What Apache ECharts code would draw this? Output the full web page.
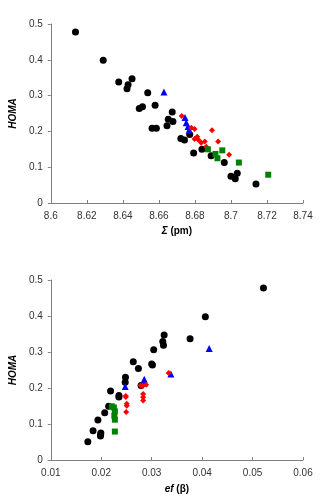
<!DOCTYPE html>
<html>
<head>
<meta charset="utf-8">
<script src="https://cdn.jsdelivr.net/npm/echarts@6/dist/echarts.min.js"></script>
<style>
	html, body { margin: 0; padding: 0; background: #fff; }
	#chart { width: 320px; height: 504px; }
</style>
</head>
<body>
<div id="chart"></div>
<script>
// upper plot: Sigma (pm) vs HOMA
var sigmaCircles = [ [8.6137, 0.478], [8.6291, 0.399], [8.6377, 0.338], [8.6429, 0.330], [8.6423, 0.319],
		[8.6451, 0.347], [8.6538, 0.308], [8.6491, 0.264], [8.6509, 0.269], [8.6579, 0.273], [8.6674, 0.254],
		[8.6652, 0.234], [8.6678, 0.228], [8.6645, 0.216], [8.6562, 0.209], [8.6586, 0.209], [8.6722, 0.180],
		[8.6742, 0.176], [8.6771, 0.191], [8.6793, 0.140], [8.6839, 0.150], [8.6890, 0.132], [8.6963, 0.113],
		[8.7000, 0.075], [8.7024, 0.068], [8.7035, 0.083], [8.7139, 0.053] ];
var sigmaTriangles = [ [8.6628, 0.310], [8.6745, 0.239], [8.6752, 0.224], [8.6762, 0.214], [8.6768, 0.204] ];
var sigmaDiamonds = [ [8.6727, 0.243], [8.6895, 0.203], [8.6780, 0.210], [8.6798, 0.207], [8.6813, 0.185],
		[8.6798, 0.179], [8.6820, 0.176], [8.6835, 0.168], [8.6855, 0.172], [8.6929, 0.172], [8.6863, 0.157],
		[8.6990, 0.135] ];
var sigmaSquares = [ [8.6872, 0.150], [8.6914, 0.137], [8.6925, 0.125], [8.6952, 0.147], [8.7044, 0.113],
		[8.7207, 0.079] ];

// lower plot: ef(beta) vs HOMA
var efCircles = [ [0.05216, 0.478], [0.04064, 0.398], [0.03761, 0.337], [0.03247, 0.347], [0.0322, 0.329],
		[0.03234, 0.319], [0.0304, 0.306], [0.02635, 0.273], [0.02737, 0.254], [0.0300, 0.267], [0.03015, 0.264],
		[0.0248, 0.230], [0.02475, 0.216], [0.0279, 0.207], [0.02185, 0.192], [0.02351, 0.179], [0.02351, 0.175],
		[0.02147, 0.149], [0.02069, 0.131], [0.01934, 0.111], [0.01838, 0.081], [0.01992, 0.075],
		[0.01985, 0.067], [0.01988, 0.071], [0.01734, 0.051] ];
var efTriangles = [ [0.0414, 0.310], [0.0338, 0.239], [0.02853, 0.224], [0.0285, 0.214], [0.02475, 0.204] ];
var efDiamonds = [ [0.03336, 0.242], [0.0282, 0.206], [0.0278, 0.207], [0.0289, 0.209], [0.0283, 0.183],
		[0.0283, 0.174], [0.0283, 0.165], [0.02487, 0.178], [0.02487, 0.175], [0.02506, 0.156],
		[0.02506, 0.151], [0.02494, 0.133] ];
var efSquares = [ [0.0221, 0.149], [0.0225, 0.146], [0.0227, 0.135], [0.0226, 0.123], [0.0227, 0.112],
		[0.0227, 0.079] ];

var homaTicks = [ '0', '0.1', '0.2', '0.3', '0.4', '0.5' ];

var font = 'Liberation Sans, Arial, sans-serif';
var axisColor = '#7f7f7f';

function xAxisOf(grid, min, max, step, name, gap) {
	return {
		type : 'value',
		gridIndex : grid,
		min : min,
		max : max,
		interval : step,
		name : name,
		nameLocation : 'middle',
		nameGap : gap,
		nameTextStyle : {
			color : '#000',
			fontFamily : font,
			fontSize : 10,
			fontWeight : 'bold',
			rich : {
				it : {
					fontStyle : 'italic',
					fontWeight : 'bold',
					fontSize : 10,
					fontFamily : font,
					color : '#000'
				}
			}
		},
		splitLine : { show : false },
		axisLine : { show : true, onZero : false, lineStyle : { color : axisColor, width : 1 } },
		axisTick : { show : true, inside : true, length : 3, lineStyle : { color : axisColor } },
		axisLabel : {
			color : '#333',
			fontFamily : font,
			fontSize : 10,
			margin : 8,
			formatter : function(v) {
				return String(+v.toFixed(2));
			}
		}
	};
}

function yAxisOf(grid, gap) {
	return {
		type : 'value',
		gridIndex : grid,
		min : 0,
		max : 0.5,
		interval : 0.1,
		name : 'HOMA',
		nameLocation : 'middle',
		nameGap : gap,
		nameTextStyle : {
			color : '#000',
			fontFamily : font,
			fontSize : 10,
			fontWeight : 'bold',
			fontStyle : 'italic'
		},
		splitLine : { show : false },
		axisLine : { show : true, onZero : false, lineStyle : { color : axisColor, width : 1 } },
		axisTick : { show : true, length : 3, lineStyle : { color : axisColor } },
		axisLabel : {
			color : '#333',
			fontFamily : font,
			fontSize : 10,
			margin : 8,
			formatter : function(v) {
				return homaTicks[Math.round(v * 10)];
			}
		}
	};
}

function scatter(idx, data, symbol, size, color) {
	return {
		type : 'scatter',
		xAxisIndex : idx,
		yAxisIndex : idx,
		data : data,
		symbol : symbol,
		symbolSize : size,
		itemStyle : { color : color, opacity : 1 },
		animation : false
	};
}

var option = {
	backgroundColor : '#fff',
	animation : false,
	grid : [ {
		left : 48,
		top : 24,
		width : 255,
		height : 179
	}, {
		left : 44,
		top : 280,
		width : 259,
		height : 180
	} ],
	xAxis : [ xAxisOf(0, 8.6, 8.74, 0.02, '{it|Σ} (pm)', 23), xAxisOf(1, 0.01, 0.06, 0.01, '{it|ef} (β)', 24) ],
	yAxis : [ yAxisOf(0, 27), yAxisOf(1, 22) ],
	series : [
		scatter(0, sigmaCircles, 'circle', 7, '#000'),
		scatter(0, sigmaTriangles, 'triangle', 7, '#0000ff'),
		scatter(0, sigmaDiamonds, 'diamond', 6, '#ff0000'),
		scatter(0, sigmaSquares, 'rect', 6, '#008000'),
		scatter(1, efCircles, 'circle', 7, '#000'),
		scatter(1, efTriangles, 'triangle', 7, '#0000ff'),
		scatter(1, efDiamonds, 'diamond', 6, '#ff0000'),
		scatter(1, efSquares, 'rect', 6, '#008000')
	]
};

var chart = echarts.init(document.getElementById('chart'), null, { renderer : 'canvas' });
chart.setOption(option);
</script>
</body>
</html>
